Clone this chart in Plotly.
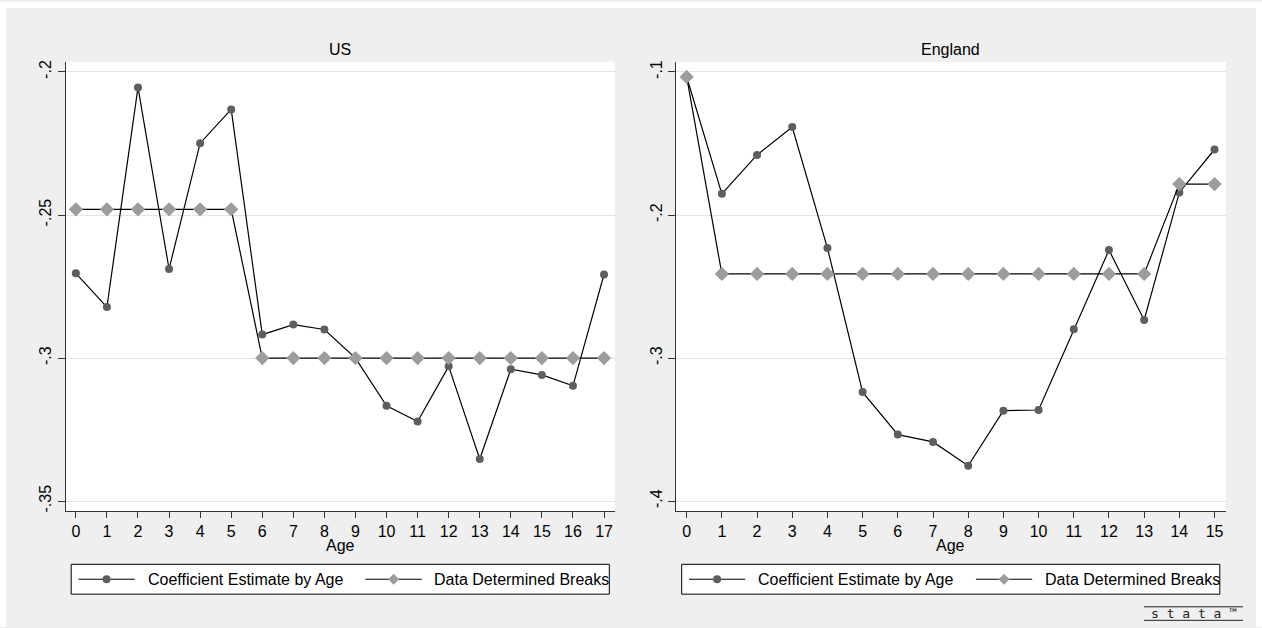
import plotly.graph_objects as go

# ---------------- data ----------------
ages_us = list(range(18))
coef_us = [-0.2704, -0.2822, -0.2054, -0.2689, -0.2249, -0.2131, -0.2918, -0.2883, -0.2900,
           -0.3000, -0.3167, -0.3222, -0.3029, -0.3353, -0.3039, -0.3059, -0.3097, -0.2708]
breaks_us = [-0.248] * 6 + [-0.300] * 12

ages_en = list(range(16))
coef_en = [-0.1035, -0.1852, -0.1580, -0.1385, -0.2231, -0.3238, -0.3535, -0.3586, -0.3753,
           -0.3368, -0.3363, -0.2798, -0.2245, -0.2734, -0.1842, -0.1542]
breaks_en = [-0.1035] + [-0.2412] * 13 + [-0.1784] * 2

yticks_us = [-0.35, -0.30, -0.25, -0.20]
yticklabels_us = ["-.35", "-.3", "-.25", "-.2"]
yticks_en = [-0.4, -0.3, -0.2, -0.1]
yticklabels_en = ["-.4", "-.3", "-.2", "-.1"]

panel_titles = ["US", "England"]
series_names = ["Coefficient Estimate by Age", "Data Determined Breaks"]
x_title = "Age"

# ---------------- style ----------------
W, H = 1262, 628
FONT = "Liberation Sans, Arial, sans-serif"
BG = "#efefef"
GRID = "#e4e4e4"
AXC = "#333333"
C_COEF = "#5e5e5e"
C_BRK = "#9c9c9c"


def px(x):
    return x / W


def py(y):
    return 1 - y / H


fig = go.Figure()

panels = [
    dict(ages=ages_us, coef=coef_us, brk=breaks_us, x0=65.6, x1=614.9,
         xr=[-0.33, 17.35], yr=[-0.35348, -0.19642], yt=yticks_us, ytl=yticklabels_us),
    dict(ages=ages_en, coef=coef_en, brk=breaks_en, x0=676.1, x1=1225.8,
         xr=[-0.30, 15.32], yr=[-0.40696, -0.09283], yt=yticks_en, ytl=yticklabels_en),
]

shapes = []
annotations = []

# thin white strips at the top/left/right edges of the image
shapes.append(dict(type="rect", xref="paper", yref="paper", x0=0, x1=1, y0=py(6), y1=1,
                   fillcolor="white", line_width=0, layer="below"))
shapes.append(dict(type="rect", xref="paper", yref="paper", x0=0, x1=px(6), y0=0, y1=1,
                   fillcolor="white", line_width=0, layer="below"))
shapes.append(dict(type="rect", xref="paper", yref="paper", x0=px(1256), x1=1, y0=0, y1=1,
                   fillcolor="white", line_width=0, layer="below"))

layout_axes = {}
for i, p in enumerate(panels):
    n = i + 1
    xa = "x" if n == 1 else f"x{n}"
    ya = "y" if n == 1 else f"y{n}"
    fig.add_trace(go.Scatter(x=p["ages"], y=p["coef"], mode="lines+markers", xaxis=xa, yaxis=ya,
                             line=dict(color="black", width=1.2),
                             marker=dict(symbol="circle", size=8, color=C_COEF),
                             showlegend=False, name=series_names[0]))
    fig.add_trace(go.Scatter(x=p["ages"], y=p["brk"], mode="lines+markers", xaxis=xa, yaxis=ya,
                             line=dict(color="black", width=1.2),
                             marker=dict(symbol="diamond", size=11, color=C_BRK),
                             showlegend=False, name=series_names[1]))
    xkey = "xaxis" if n == 1 else f"xaxis{n}"
    ykey = "yaxis" if n == 1 else f"yaxis{n}"
    layout_axes[xkey] = dict(
        domain=[px(p["x0"]), px(p["x1"])], range=p["xr"], anchor=ya,
        tickmode="array", tickvals=p["ages"], ticktext=[str(a) for a in p["ages"]],
        ticks="outside", ticklen=6, tickcolor=AXC, tickwidth=1,
        showline=True, linecolor=AXC, linewidth=1,
        showgrid=False, zeroline=False,
        tickfont=dict(family=FONT, size=16, color="black"),
    )
    layout_axes[ykey] = dict(
        domain=[py(511.5), py(60)], range=p["yr"], anchor=xa,
        tickmode="array", tickvals=p["yt"], ticktext=p["ytl"], tickangle=-90,
        ticks="outside", ticklen=7, tickcolor=AXC, tickwidth=1,
        showline=True, linecolor=AXC, linewidth=1,
        showgrid=True, gridcolor=GRID, gridwidth=1, zeroline=False,
        tickfont=dict(family=FONT, size=16, color="black"),
    )
    cx = (p["x0"] + p["x1"]) / 2
    annotations.append(dict(text=panel_titles[i], xref="paper", yref="paper", x=px(cx), y=py(48),
                            xanchor="center", yanchor="middle", showarrow=False,
                            font=dict(family=FONT, size=16, color="black")))
    annotations.append(dict(text=x_title, xref="paper", yref="paper", x=px(cx), y=py(546.5),
                            xanchor="center", yanchor="middle", showarrow=False,
                            font=dict(family=FONT, size=16, color="black")))

    # legend drawn as layout decoration
    off = p["x0"] - 65.6
    ly = 580
    shapes.append(dict(type="rect", xref="paper", yref="paper",
                       x0=px(71.2 + off), x1=px(609.3 + off), y0=py(595), y1=py(565),
                       fillcolor="white", line=dict(color="black", width=1), layer="above"))
    shapes.append(dict(type="line", xref="paper", yref="paper",
                       x0=px(78.5 + off), x1=px(134.8 + off), y0=py(ly), y1=py(ly),
                       line=dict(color="black", width=1.2), layer="above"))
    shapes.append(dict(type="circle", xref="paper", yref="paper",
                       x0=px(106.6 + off - 4), x1=px(106.6 + off + 4), y0=py(ly + 4), y1=py(ly - 4),
                       fillcolor=C_COEF, line_width=0, layer="above"))
    shapes.append(dict(type="line", xref="paper", yref="paper",
                       x0=px(365.4 + off), x1=px(421.7 + off), y0=py(ly), y1=py(ly),
                       line=dict(color="black", width=1.2), layer="above"))
    dx = 393.6 + off
    d = 5.5
    path = (f"M{px(dx - d)},{py(ly)} L{px(dx)},{py(ly - d)} "
            f"L{px(dx + d)},{py(ly)} L{px(dx)},{py(ly + d)} Z")
    shapes.append(dict(type="path", xref="paper", yref="paper", path=path,
                       fillcolor=C_BRK, line_width=0, layer="above"))
    annotations.append(dict(text=series_names[0], xref="paper", yref="paper", x=px(145.5 + off), y=py(ly),
                            xanchor="left", yanchor="middle", showarrow=False,
                            font=dict(family=FONT, size=16, color="black")))
    annotations.append(dict(text=series_names[1], xref="paper", yref="paper", x=px(432.4 + off), y=py(ly),
                            xanchor="left", yanchor="middle", showarrow=False,
                            font=dict(family=FONT, size=16, color="black")))

# stata logo
shapes.append(dict(type="line", xref="paper", yref="paper", x0=px(1144), x1=px(1243),
                   y0=py(607.7), y1=py(607.7), line=dict(color="#222222", width=1)))
shapes.append(dict(type="line", xref="paper", yref="paper", x0=px(1144), x1=px(1243),
                   y0=py(621.3), y1=py(621.3), line=dict(color="#222222", width=1)))
annotations.append(dict(text="s t a t a ™", xref="paper", yref="paper", x=px(1193.5), y=py(614.5),
                        xanchor="center", yanchor="middle", showarrow=False,
                        font=dict(family="DejaVu Sans Mono, monospace", size=13, color="#222222")))

fig.update_layout(
    width=W, height=H, autosize=False,
    margin=dict(l=0, r=0, t=0, b=0),
    paper_bgcolor=BG, plot_bgcolor="white",
    showlegend=False,
    shapes=shapes, annotations=annotations,
    **layout_axes,
)

fig.write_html(
    "out.html",
    config={"displayModeBar": False},
    post_script=("document.body.style.margin='0px';"
                 "document.body.style.overflow='hidden';"
                 "document.documentElement.style.overflow='hidden';"),
)
